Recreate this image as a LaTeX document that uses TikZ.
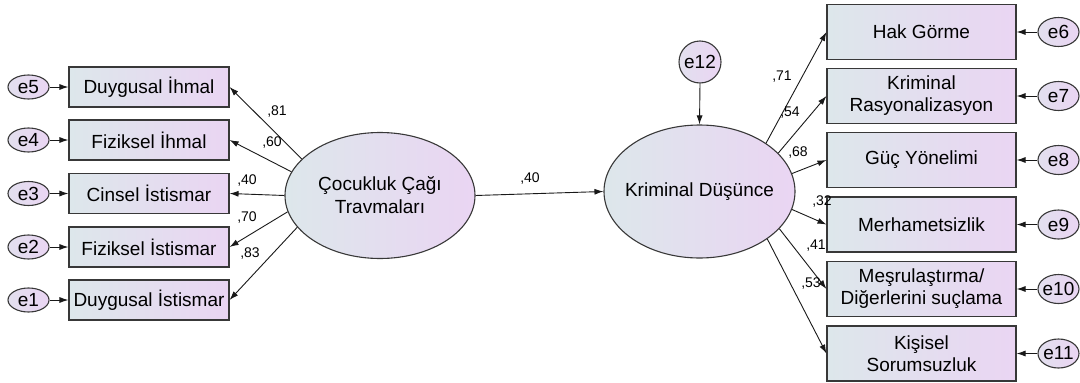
\documentclass[tikz,border=0pt]{standalone}
\usepackage{fontspec}
\setmainfont{Liberation Sans}
\usetikzlibrary{shapes.geometric,arrows.meta}
\definecolor{gleft}{HTML}{DDE7EB}
\definecolor{gright}{HTML}{EAD5F3}
\definecolor{edge}{HTML}{383838}
\tikzset{
  obs/.style={draw=edge, line width=1.1pt, left color=gleft, right color=gright,
    inner sep=0pt, align=center, font=\fontsize{19}{22}\selectfont, text=black},
  lobs/.style={obs, minimum width=160pt, minimum height=40pt},
  robs/.style={obs, minimum width=189pt, minimum height=55pt},
  lat/.style={ellipse, draw=edge, line width=1.1pt, left color=gleft, right color=gright,
    inner sep=-40pt, align=center, font=\fontsize{19}{23}\selectfont, text=black},
  err/.style={ellipse, draw=edge, line width=1.1pt, left color=gleft!60!gright, right color=gright,
    inner sep=-10pt, font=\fontsize{19}{22}\selectfont, text=black},
  lerr/.style={err, minimum width=41pt, minimum height=24pt},
  rerr/.style={err, minimum width=41pt, minimum height=29pt},
  arr/.style={draw=black!90, line width=0.9pt, -{Latex[length=9pt,width=6pt]}},
  coef/.style={font=\fontsize{14}{16}\selectfont, text=black, inner sep=0pt}
}
\begin{document}
\begin{tikzpicture}[x=1pt,y=-1pt]
\path[use as bounding box] (0,0) rectangle (1080,383);
% left observed
\node[lobs] (di) at (149,87) {Duygusal İhmal};
\node[lobs] (fi) at (149,140) {Fiziksel İhmal};
\node[lobs] (ci) at (149,193.5) {Cinsel İstismar};
\node[lobs] (fs) at (149,247) {Fiziksel İstismar};
\node[lobs] (ds) at (149,300) {Duygusal İstismar};
% left errors
\node[lerr] (e5) at (28.5,87) {e5};
\node[lerr] (e4) at (28.5,140) {e4};
\node[lerr] (e3) at (28.5,193.5) {e3};
\node[lerr] (e2) at (28.5,247) {e2};
\node[lerr] (e1) at (28.5,300) {e1};
% latent
\node[lat, minimum width=190pt, minimum height=126pt] (ct) at (380,195.5) {Çocukluk Çağı\\Travmaları};
\node[lat, minimum width=191pt, minimum height=133pt] (kd) at (699.5,191.5) {Kriminal Düşünce};
\node[err, circle, minimum size=42pt] (e12) at (700,62) {e12};
% right observed
\node[robs] (hg) at (921.5,32) {Hak Görme};
\node[robs] (kr) at (921.5,96) {Kriminal\\Rasyonalizasyon};
\node[robs] (gy) at (921.5,160) {Güç Yönelimi};
\node[robs] (mh) at (921.5,224.5) {Merhametsizlik};
\node[robs] (ms) at (921.5,289) {Meşrulaştırma/\\Diğerlerini suçlama};
\node[robs] (ks) at (921.5,353.5) {Kişisel\\Sorumsuzluk};
% right errors
\node[rerr] (e6) at (1058.5,32) {e6};
\node[rerr] (e7) at (1058.5,96) {e7};
\node[rerr] (e8) at (1058.5,160) {e8};
\node[rerr] (e9) at (1058.5,224.5) {e9};
\node[rerr] (e10) at (1058.5,289) {e10};
\node[rerr] (e11) at (1058.5,353.5) {e11};
% error arrows
\foreach \e/\b in {e5/di,e4/fi,e3/ci,e2/fs,e1/ds}{\draw[arr] (\e.east) -- (\b.west);}
\foreach \e/\b in {e6/hg,e7/kr,e8/gy,e9/mh,e10/ms,e11/ks}{\draw[arr] (\e.west) -- (\b.east);}
\draw[arr] (e12.south) -- (kd.north);
% loadings left
\draw[arr] (ct.155) -- (di.east);
\draw[arr] (ct.165) -- (fi.east);
\draw[arr] (ct.180) -- (ci.east);
\draw[arr] (ct.190) -- (fs.east);
\draw[arr] (ct.201) -- (ds.east);
% structural
\draw[arr] (ct.east) -- (kd.west);
% loadings right
\draw[arr] (kd.36) -- (hg.west);
\draw[arr] (kd.26) -- (kr.west);
\draw[arr] (kd.11) -- (gy.west);
\draw[arr] (kd.-11) -- (mh.west);
\draw[arr] (kd.-25) -- (ms.west);
\draw[arr] (kd.-35) -- (ks.west);
% coefficients
\node[coef] (c81) at (277,112) {,81};
\node[coef] (c60) at (272,143) {,60};
\node[coef] (c40l) at (247,181) {,40};
\node[coef] (c70) at (247,218) {,70};
\node[coef] (c83) at (250,254) {,83};
\node[coef] (c40) at (530,179) {,40};
\node[coef] (c71) at (782,77) {,71};
\node[coef] (c54) at (790,113) {,54};
\node[coef] (c68) at (798,153) {,68};
\node[coef] (c32) at (822,202) {,32};
\node[coef] (c41) at (816,246) {,41};
\node[coef] (c53) at (811,284) {,53};
\end{tikzpicture}
\end{document}
